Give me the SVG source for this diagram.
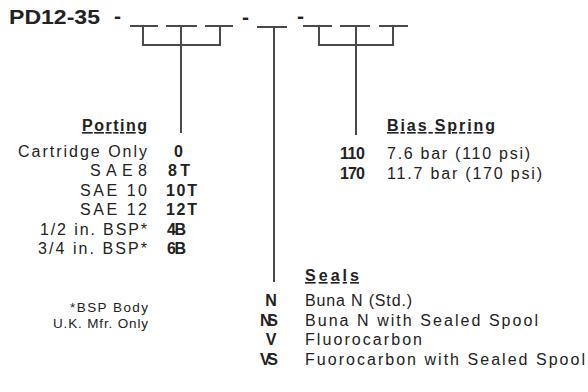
<svg xmlns="http://www.w3.org/2000/svg" width="588" height="392" viewBox="0 0 588 392">
<style>
text{font-family:"Liberation Sans",Arial,sans-serif;fill:#222;}
.t{font-size:16px;}
.b{font-size:16px;font-weight:bold;}
.h{font-size:16px;font-weight:bold;text-decoration:underline;}
.f{font-size:13.5px;}
.title{font-size:21px;font-weight:bold;}
.e{text-anchor:end;}
.m{text-anchor:middle;}
.ln{stroke:#4a4a4a;stroke-width:2;fill:none;}
</style>
<rect width="588" height="392" fill="#fff"/>
<g id="title">
<text class="title" x="9" y="24" textLength="91" lengthAdjust="spacingAndGlyphs">PD12-35</text>
<text class="title" x="114" y="23">-</text>
<text class="title" x="242" y="24">-</text>
<text class="title" x="297" y="23">-</text>
</g>
<g id="connectors" class="ln">
<path d="M130 26H158M166 26H197M205 26H233"/>
<path d="M143 26V45H220V26M181 26V133"/>
<path d="M257 27H287M274 27V282"/>
<path d="M303 26H332M340 26H370M379 26H408"/>
<path d="M319 26V45H393V26M356 26V135"/>
</g>
<g id="porting">
<text class="h e" x="147" y="131" textLength="65">Porting</text>
<text class="t e" x="147" y="157" textLength="129">Cartridge Only</text>
<text class="t e" x="147" y="176" textLength="57">SAE8</text>
<text class="t e" x="147" y="196" textLength="67">SAE 10</text>
<text class="t e" x="147" y="215" textLength="67">SAE 12</text>
<text class="t e" x="147" y="235" textLength="107">1/2 in. BSP*</text>
<text class="t e" x="147" y="254" textLength="109">3/4 in. BSP*</text>
<text class="b" x="174" y="157">0</text>
<text class="b" x="168" y="176" textLength="22">8T</text>
<text class="b" x="166" y="196" textLength="31">10T</text>
<text class="b" x="166" y="215" textLength="31">12T</text>
<text class="b" x="167" y="235" textLength="19">4B</text>
<text class="b" x="167" y="254" textLength="19">6B</text>
<text class="f e" x="148" y="312" textLength="78">*BSP Body</text>
<text class="f e" x="148" y="328" textLength="95">U.K. Mfr. Only</text>
</g>
<g id="bias-spring">
<text class="h" x="387" y="131" textLength="108">Bias Spring</text>
<text class="b" x="340" y="159" textLength="25">110</text>
<text class="t" x="387" y="159" textLength="143">7.6 bar (110 psi)</text>
<text class="b" x="340" y="179" textLength="25">170</text>
<text class="t" x="387" y="179" textLength="155">11.7 bar (170 psi)</text>
</g>
<g id="seals">
<text class="h" x="305" y="281" textLength="54">Seals</text>
<text class="b m" x="271" y="306">N</text>
<text class="t" x="305" y="306" textLength="107">Buna N (Std.)</text>
<text class="b m" x="269" y="326" textLength="18">NS</text>
<text class="t" x="305" y="326" textLength="233">Buna N with Sealed Spool</text>
<text class="b m" x="271" y="345">V</text>
<text class="t" x="305" y="345" textLength="117">Fluorocarbon</text>
<text class="b m" x="269" y="365" textLength="18">VS</text>
<text class="t" x="305" y="365" textLength="280">Fuorocarbon with Sealed Spool</text>
</g>
</svg>
